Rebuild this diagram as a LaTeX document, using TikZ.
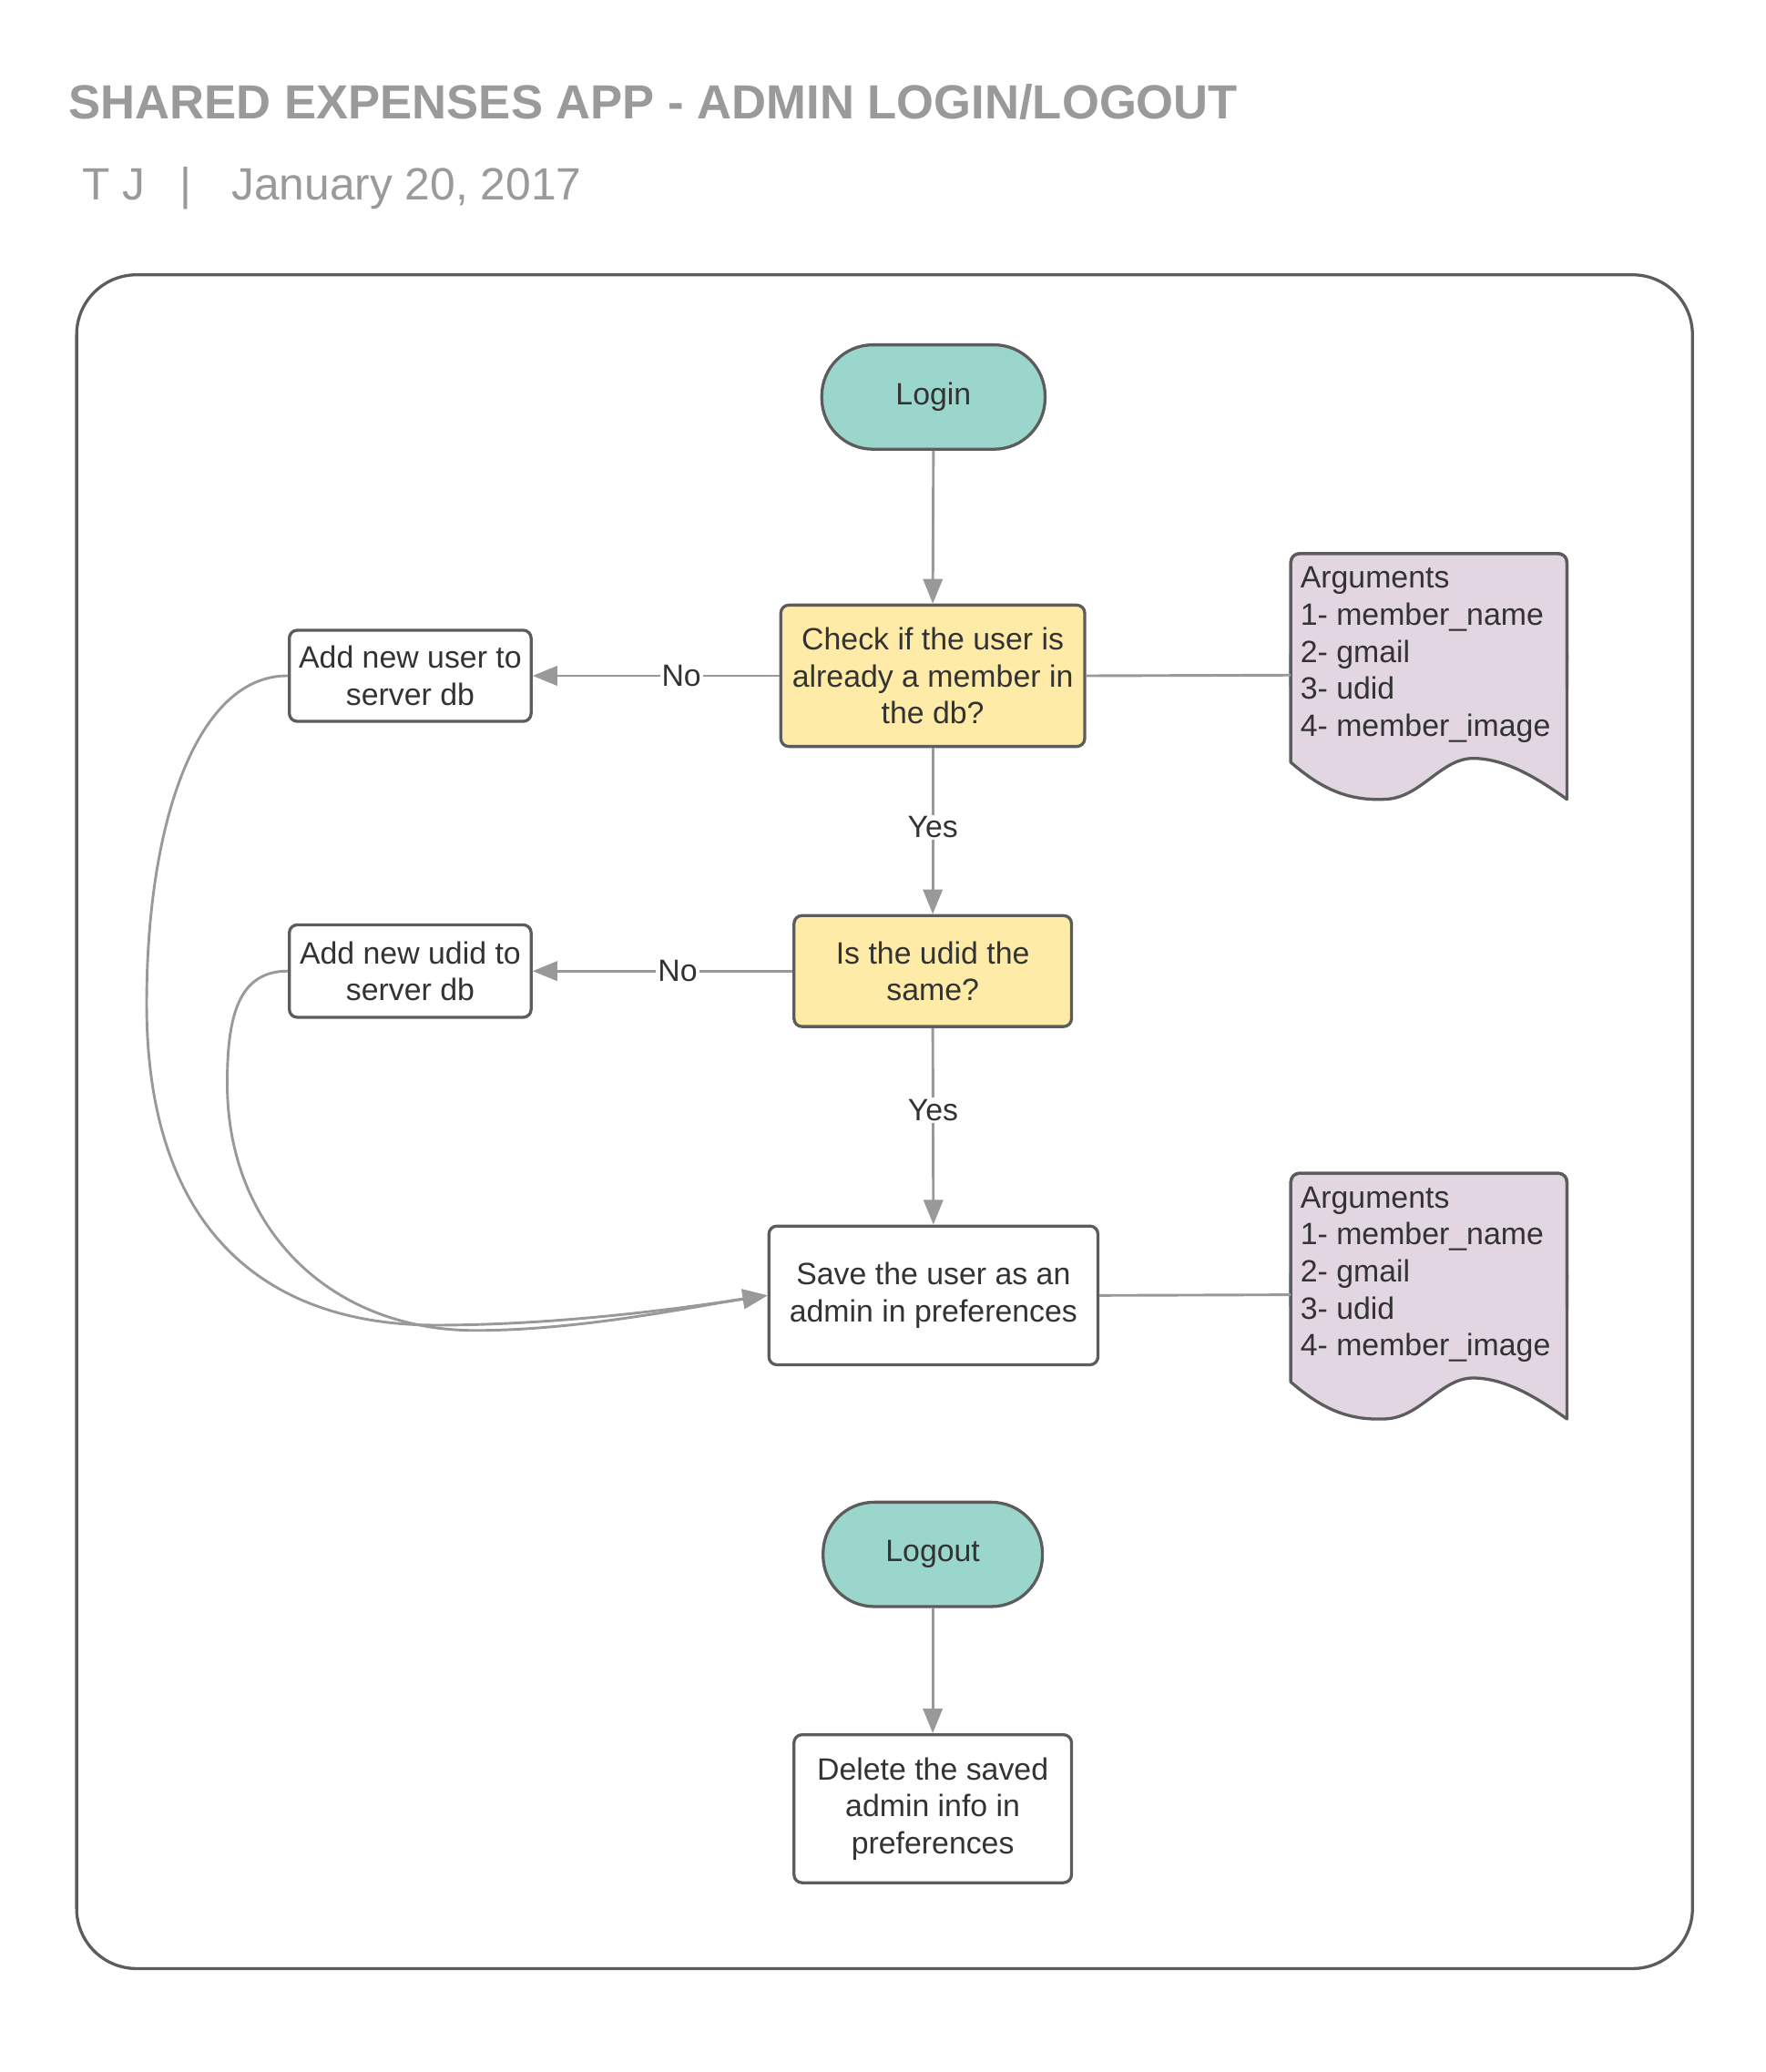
\documentclass[tikz,border=0pt]{standalone}
\usepackage{fontspec}
\setmainfont{Liberation Sans}
\usetikzlibrary{arrows.meta}
\definecolor{bordc}{HTML}{5C5C5C}
\definecolor{connc}{HTML}{999999}
\definecolor{txtc}{HTML}{333333}
\definecolor{titlec}{HTML}{9A9A9A}
\definecolor{termc}{HTML}{9AD6CB}
\definecolor{decc}{HTML}{FFEBA8}
\definecolor{docc}{HTML}{E2D6E3}
\newcommand\nf{\fontsize{17.5}{21}\selectfont}
\tikzset{
  shp/.style={draw=bordc, line width=1.7pt, text=txtc, font=\nf, align=center, inner sep=2pt},
  term/.style={shp, fill=termc, rounded corners=29pt},
  dec/.style={shp, fill=decc, rounded corners=4.5pt},
  proc/.style={shp, fill=white, rounded corners=4.5pt},
  conn/.style={draw=connc, line width=1.5pt, -{Triangle[length=14pt,width=11pt]}},
  plain/.style={draw=connc, line width=1.5pt},
  lbl/.style={fill=white, text=txtc, font=\nf, inner sep=1pt},
  docshape/.style={draw=bordc, line width=1.7pt, fill=docc, line join=round},
}
\begin{document}
\begin{tikzpicture}[x=0.75pt, y=-0.75pt]
\useasboundingbox (0,0) rectangle (1336,1568.3);
\fill[white] (0,0) rectangle (1336,1568.3);
% title
\node[anchor=base west, inner sep=0, text=titlec, font=\fontsize{27.2}{32}\selectfont\bfseries] (title) at (52,90) {SHARED EXPENSES APP - ADMIN LOGIN/LOGOUT};
\node[anchor=base west, inner sep=0, text=titlec, font=\fontsize{25.7}{30}\selectfont] (author) at (62,151) {T J};
\node[anchor=base west, inner sep=0, text=titlec, font=\fontsize{25.7}{30}\selectfont] (sep) at (136,151) {|};
\node[anchor=base west, inner sep=0, text=titlec, font=\fontsize{25.7}{30}\selectfont] (date) at (175,151) {January 20, 2017};
% frame
\draw[draw=bordc, line width=1.7pt, rounded corners=34pt] (58,208) rectangle (1281,1490);
% nodes
\node[term, minimum width=126.75pt, minimum height=59.25pt] (login) at (706.5,300.5) {Login};
\node[dec, minimum width=172.5pt, minimum height=80.25pt] (check) at (706,511.5) {Check if the user is\\already a member in\\the db?};
\node[proc, minimum width=137.25pt, minimum height=51.75pt] (adduser) at (310.5,511.5) {Add new user to\\server db};
\node[dec, minimum width=157.5pt, minimum height=63pt] (same) at (706,735) {Is the udid the\\same?};
\node[proc, minimum width=137.25pt, minimum height=52.5pt] (addudid) at (310.5,735) {Add new udid to\\server db};
\node[proc, minimum width=186.75pt, minimum height=78.75pt] (save) at (706.5,980.5) {Save the user as an\\admin in preferences};
\node[term, minimum width=124.5pt, minimum height=59.25pt] (logout) at (706,1176.5) {Logout};
\node[proc, minimum width=157.5pt, minimum height=84pt] (delete) at (706,1369) {Delete the saved\\admin info in\\preferences};
% documents
\draw[docshape, rounded corners=5pt] (977,577) -- (977,419) -- (1186,419) -- (1186,500);
\draw[docshape] (1186,495) -- (1186,605) .. controls (1165,590) and (1140,574) .. (1115,574) .. controls (1090,574) and (1075,605) .. (1047,605) .. controls (1020,606) and (1000,597) .. (977,577) -- (977,495);
\fill[docc] (979,421) rectangle (1184,500);
\draw[docshape, fill=none, rounded corners=5pt] (977,520) -- (977,419) -- (1186,419) -- (1186,520);
\node[anchor=north west, inner sep=0, align=left, text=txtc, font=\nf] (args1) at (984,429) {Arguments\\1- member\_name\\2- gmail\\3- udid\\4- member\_image};
\coordinate (doc1) at (977,511);
\begin{scope}[yshift=-351.75pt]
\draw[docshape, rounded corners=5pt] (977,577) -- (977,419) -- (1186,419) -- (1186,500);
\draw[docshape] (1186,495) -- (1186,605) .. controls (1165,590) and (1140,574) .. (1115,574) .. controls (1090,574) and (1075,605) .. (1047,605) .. controls (1020,606) and (1000,597) .. (977,577) -- (977,495);
\fill[docc] (979,421) rectangle (1184,500);
\draw[docshape, fill=none, rounded corners=5pt] (977,520) -- (977,419) -- (1186,419) -- (1186,520);
\end{scope}
\node[anchor=north west, inner sep=0, align=left, text=txtc, font=\nf] (args2) at (984,898) {Arguments\\1- member\_name\\2- gmail\\3- udid\\4- member\_image};
\coordinate (doc2) at (977,980);
% connectors
\draw[conn] (login.south) -- (check.north);
\draw[conn] (check.west) -- node[lbl, pos=0.397] {No} (adduser.east);
\draw[conn] (check.south) -- node[lbl, pos=0.477] {Yes} (same.north);
\draw[conn] (same.west) -- node[lbl, pos=0.442] {No} (addudid.east);
\draw[conn] (same.south) -- node[lbl, pos=0.417] {Yes} (save.north);
\draw[plain] (check.east) -- (doc1);
\draw[plain] (save.east) -- (doc2);
\draw[conn] (logout.south) -- (delete.north);
\draw[conn] (adduser.west) .. controls (150,511) and (111,620) .. (111,760) .. controls (111,930) and (200,1003) .. (330,1003) .. controls (430,1003) and (530,988) .. (save.west);
\draw[conn] (addudid.west) .. controls (180,735) and (172,770) .. (172,820) .. controls (172,930) and (250,1007) .. (360,1007) .. controls (440,1007) and (530,988) .. (save.west);
\end{tikzpicture}
\end{document}
